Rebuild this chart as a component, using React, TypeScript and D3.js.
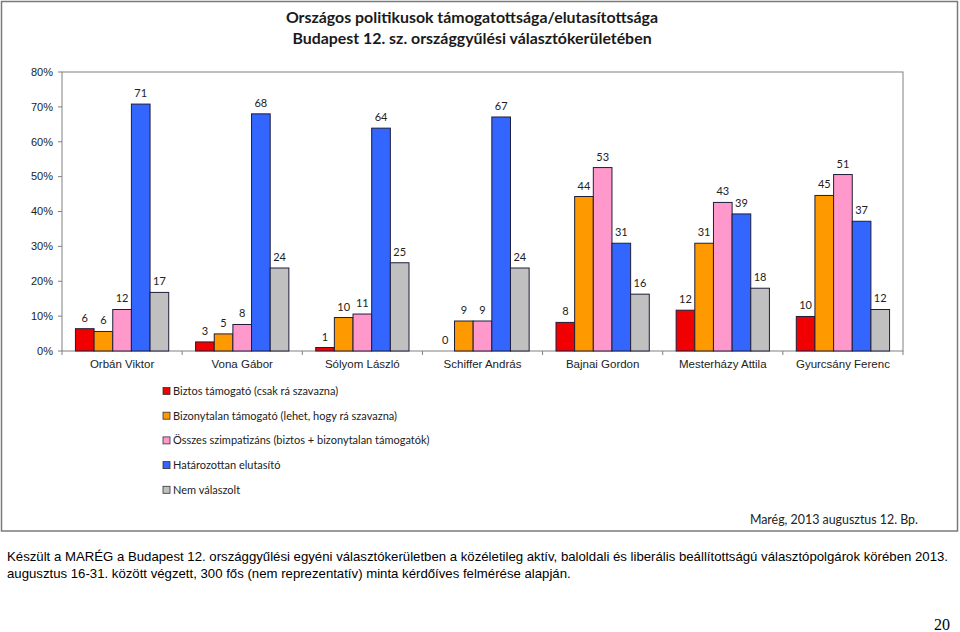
import React from "react";
import * as d3 from "d3";

const categories = [
  "Orbán Viktor",
  "Vona  Gábor",
  "Sólyom László",
  "Schiffer András",
  "Bajnai Gordon",
  "Mesterházy Attila",
  "Gyurcsány Ferenc",
];

const seriesNames = [
  "Biztos támogató (csak rá szavazna)",
  "Bizonytalan támogató (lehet, hogy rá szavazna)",
  "Összes szimpatizáns (biztos + bizonytalan támogatók)",
  "Határozottan elutasító",
  "Nem válaszolt",
];

const biztos = [6.4, 2.6, 1.0, 0, 8.2, 11.7, 9.9];
const bizonytalan = [5.6, 4.9, 9.6, 8.6, 44.3, 30.9, 44.6];
const osszes = [11.9, 7.6, 10.6, 8.6, 52.6, 42.6, 50.6];
const elutasito = [70.8, 68.0, 63.9, 67.1, 30.9, 39.3, 37.2];
const nemValaszolt = [16.8, 23.8, 25.3, 23.8, 16.3, 18.0, 11.9];

const seriesColors = ["#f00000", "#ff9900", "#ff99cc", "#3366ff", "#c0c0c0"];

const yTicks = [0, 10, 20, 30, 40, 50, 60, 70, 80];

const titleLines = [
  "Országos politikusok támogatottsága/elutasítottsága",
  "Budapest 12. sz. országgyűlési választókerületében",
];
const signature = "Marég, 2013 augusztus 12. Bp.";
const captionLines = [
  "Készült a MARÉG a Budapest 12. országgyűlési egyéni választókerületben a közéletileg aktív, baloldali és liberális beállítottságú választópolgárok körében 2013.",
  "augusztus 16-31. között végzett, 300 fős (nem reprezentatív) minta kérdőíves felmérése alapján.",
];
const pageNumber = "20";

export default function App() {
  const series = [biztos, bizonytalan, osszes, elutasito, nemValaszolt];
  const plot = { left: 62, right: 903, top: 72, bottom: 351 };
  const x = d3
    .scaleBand<string>()
    .domain(categories)
    .range([plot.left, plot.right])
    .paddingInner(0)
    .paddingOuter(0);
  const xs = d3
    .scaleBand<number>()
    .domain(d3.range(series.length))
    .range([0, x.bandwidth()])
    .paddingInner(0)
    .paddingOuter(0.72);
  const y = d3.scaleLinear().domain([0, 80]).range([plot.bottom, plot.top]);

  const calibri = "Lato, 'Open Sans', sans-serif";
  const arial = "'Liberation Sans', Arial, sans-serif";

  const boundaries = d3.range(categories.length + 1).map((i) => plot.left + i * x.step());

  return (
    <div style={{ position: "absolute", left: 0, top: 0 }}>
      <svg width={960} height={632} style={{ display: "block", background: "#fff" }}>
        {/* outer frame */}
        <rect x={1.5} y={1.5} width={956} height={529.5} fill="none" stroke="#7a7a7a" strokeWidth={1.5} />

        {/* title */}
        {titleLines.map((t, i) => (
          <text
            key={i}
            x={472}
            y={23 + i * 21}
            textAnchor="middle"
            fontFamily={calibri}
            fontWeight="bold"
            fontSize={15.9}
            fill="#1a1a1a"
          >
            {t}
          </text>
        ))}

        {/* plot frame */}
        <rect
          x={plot.left}
          y={plot.top}
          width={plot.right - plot.left}
          height={plot.bottom - plot.top}
          fill="#fff"
          stroke="#808080"
          strokeWidth={1}
        />

        {/* y axis ticks */}
        {yTicks.map((t) => (
          <g key={t}>
            <line x1={plot.left - 4} x2={plot.left} y1={y(t)} y2={y(t)} stroke="#808080" />
            <text
              x={plot.left - 9}
              y={y(t)}
              dy="0.35em"
              textAnchor="end"
              fontFamily={arial}
              fontSize={11}
              fill="#222"
            >
              {t + "%"}
            </text>
          </g>
        ))}

        {/* x axis ticks */}
        {boundaries.map((b, i) => (
          <line key={i} x1={b} x2={b} y1={plot.bottom} y2={plot.bottom + 4} stroke="#808080" />
        ))}

        {/* bars */}
        {categories.map((c, ci) => (
          <g key={c}>
            {series.map((s, si) => {
              const v = s[ci];
              const bx = (x(c) as number) + (xs(si) as number);
              const by = y(v);
              const h = plot.bottom - by;
              return (
                <g key={si}>
                  {h > 0 && (
                    <rect
                      x={bx}
                      y={by}
                      width={xs.bandwidth()}
                      height={h}
                      fill={seriesColors[si]}
                      stroke="#1e1e3a"
                      strokeWidth={1}
                    />
                  )}
                  <text
                    x={bx + xs.bandwidth() / 2}
                    y={by - 7}
                    textAnchor="middle"
                    fontFamily={calibri}
                    fontSize={11}
                    fill="#222"
                  >
                    {Math.round(v)}
                  </text>
                </g>
              );
            })}
            <text
              x={(x(c) as number) + x.bandwidth() / 2}
              y={368}
              textAnchor="middle"
              fontFamily={arial}
              fontSize={11.5}
              fill="#222"
            >
              {c}
            </text>
          </g>
        ))}

        {/* legend */}
        {seriesNames.map((n, i) => (
          <g key={n} transform={`translate(163, ${391 + i * 24.7})`}>
            <rect x={0} y={-3.5} width={7} height={7} fill={seriesColors[i]} stroke="#333" strokeWidth={0.8} />
            <text x={10} y={0} dy="0.35em" fontFamily={calibri} fontSize={11} fill="#222">
              {n}
            </text>
          </g>
        ))}

        {/* signature */}
        <text x={918} y={524} textAnchor="end" fontFamily={calibri} fontSize={12.4} fill="#222">
          {signature}
        </text>

        {/* caption */}
        {captionLines.map((t, i) => (
          <text
            key={i}
            x={7}
            y={561 + i * 16.5}
            fontFamily={arial}
            fontSize={13.2}
            fill="#000"
          >
            {t}
          </text>
        ))}

        <text x={950} y={630} textAnchor="end" fontFamily="'Liberation Serif', 'Times New Roman', serif" fontSize={16} fill="#000">
          {pageNumber}
        </text>
      </svg>
    </div>
  );
}
